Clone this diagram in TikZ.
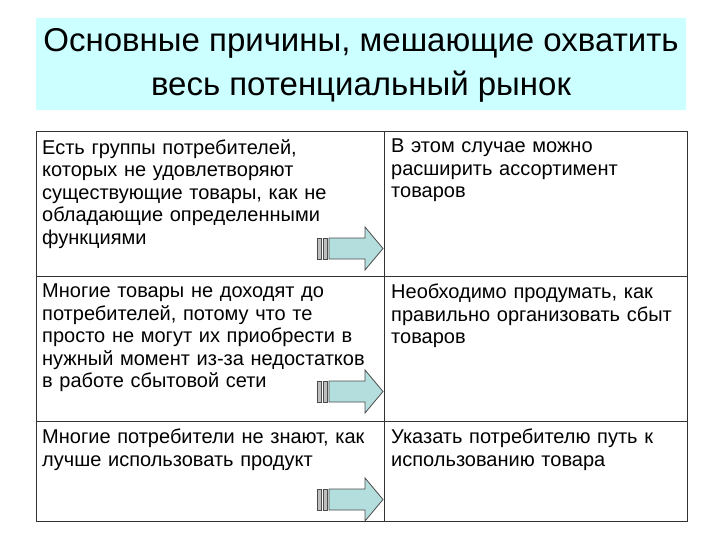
\documentclass[tikz,border=0pt]{standalone}
\usepackage{fontspec}
\setmainfont{Liberation Sans}
\definecolor{titlebg}{RGB}{204,255,255}
\definecolor{arrfill}{RGB}{180,222,222}
\begin{document}
\begin{tikzpicture}[x=1pt,y=-1pt,
  cell/.style={anchor=north west,align=left,text width=340pt,inner sep=0pt,font=\fontsize{20}{22.5}\selectfont},
  arr/.style={draw=black!70,fill=arrfill,line width=0.8pt},
  bar/.style={draw=black!70,fill=gray!50,line width=0.6pt}]
\useasboundingbox (0,0) rectangle (720,540);
\fill[titlebg] (36,18) rectangle (686,110);
\node[font=\fontsize{33}{44}\selectfont,align=center] (title) at (361,65) {Основные причины, мешающие охватить\\весь потенциальный рынок};
\draw[line width=0.8pt,black!80] (36,131) rectangle (687,521);
\draw[line width=0.8pt,black!80] (384,131) -- (384,521) (36,276) -- (687,276) (36,421) -- (687,421);
\node[cell] (a1) at (42,139) {Есть группы потребителей,\\которых не удовлетворяют\\существующие товары, как не\\обладающие определенными\\функциями};
\node[cell] (b1) at (391,139) {В этом случае можно\\расширить ассортимент\\товаров};
\node[cell] (a2) at (42,284) {Многие товары не доходят до\\потребителей, потому что те\\просто не могут их приобрести в\\нужный момент из-за недостатков\\в работе сбытовой сети};
\node[cell] (b2) at (391,284) {Необходимо продумать, как\\правильно организовать сбыт\\товаров};
\node[cell] (a3) at (42,429) {Многие потребители не знают, как\\лучше использовать продукт};
\node[cell] (b3) at (391,429) {Указать потребителю путь к\\использованию товара};
\foreach \t in {227,370,478}{
  \draw[bar] (317,\t+11) rectangle (321,\t+32);
  \draw[bar] (323,\t+11) rectangle (327,\t+32);
  \draw[arr] (329,\t+11) -- (365,\t+11) -- (365,\t) -- (383,\t+21.5) -- (365,\t+43) -- (365,\t+32) -- (329,\t+32) -- cycle;
}
\end{tikzpicture}
\end{document}
